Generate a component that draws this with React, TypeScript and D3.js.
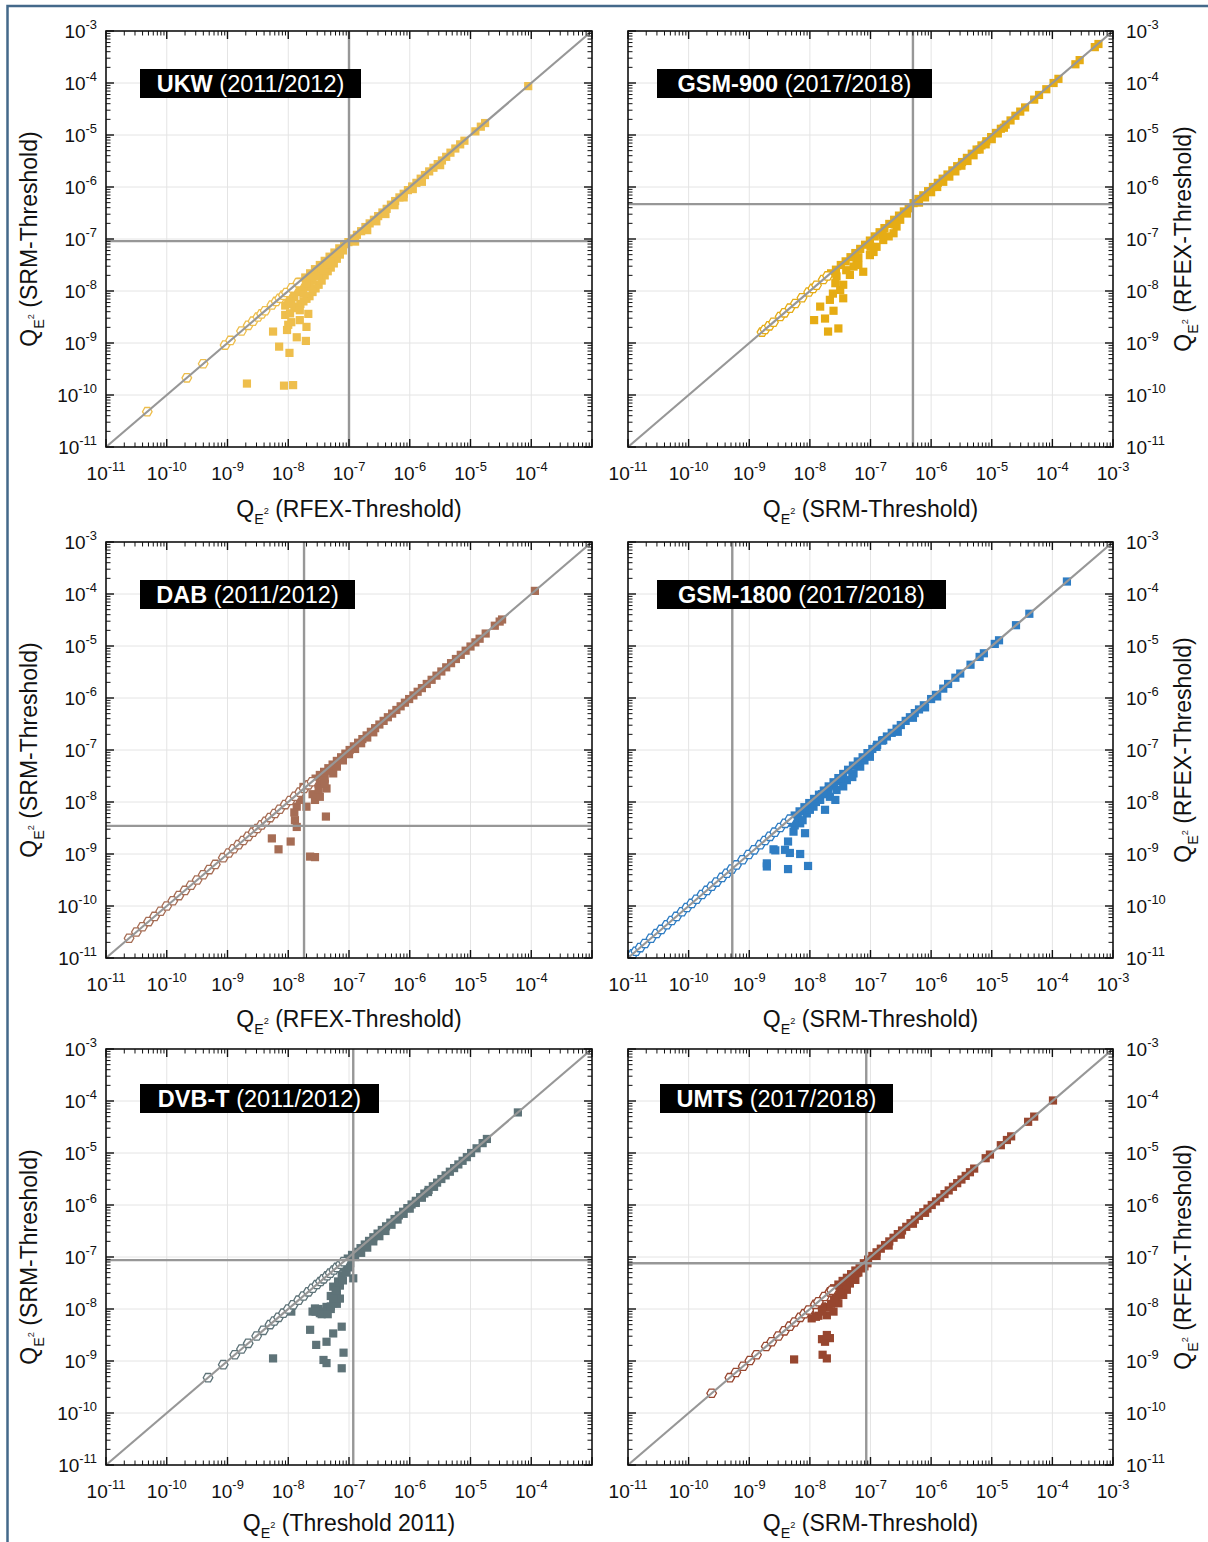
import React from 'react';
import * as d3 from 'd3';

type P = [number, number];

// ---- data (log10 exponents: [x, y]) ----
const ukwOpen: P[] = [[-10.32,-10.32],[-9.67,-9.67],[-9.4,-9.4],[-9.04,-9.04],[-8.95,-8.95],[-8.77,-8.77],[-8.66,-8.66],[-8.58,-8.58],[-8.5,-8.5],[-8.44,-8.44],[-8.38,-8.38],[-8.27,-8.27],[-8.2,-8.2],[-8.14,-8.14],[-8.08,-8.08],[-8.03,-8.03],[-7.94,-7.94],[-7.84,-7.84]];
const ukwFilled: P[] = [[-4.05,-4.06],[-4.76,-4.77],[-4.83,-4.84],[-4.92,-4.93],[-5.1,-5.11],[-5.17,-5.18],[-5.25,-5.26],[-5.33,-5.34],[-5.4,-5.42],[-5.47,-5.49],[-5.54,-5.56],[-5.61,-5.63],[-5.68,-5.7],[-5.75,-5.77],[-5.82,-5.84],[-5.89,-5.92],[-5.96,-5.99],[-6.03,-6.06],[-6.1,-6.13],[-6.17,-6.2],[-6.24,-6.27],[-6.31,-6.34],[-6.38,-6.42],[-6.45,-6.49],[-6.52,-6.56],[-6.59,-6.63],[-6.66,-6.7],[-6.73,-6.77],[-6.8,-6.85],[-6.87,-6.92],[-6.94,-6.99],[-7.01,-7.06],[-5.5,-5.58],[-5.8,-5.9],[-6.1,-6.2],[-6.4,-6.52],[-6.7,-6.83],[-6.9,-7.05],[-6.55,-6.66],[-6.25,-6.35],[-5.95,-6.04],[-7.08,-7.1],[-7.16,-7.18],[-7.24,-7.26],[-7.32,-7.34],[-7.4,-7.42],[-7.48,-7.5],[-7.56,-7.58],[-7.64,-7.66],[-7.72,-7.74],[-7.8,-7.82],[-7.1,-7.22],[-7.15,-7.3],[-7.2,-7.38],[-7.25,-7.47],[-7.3,-7.55],[-7.35,-7.62],[-7.4,-7.7],[-7.45,-7.8],[-7.5,-7.88],[-7.55,-7.95],[-7.6,-8.02],[-7.65,-8.1],[-7.7,-8.15],[-7.75,-8.2],[-7.8,-8.25],[-7.85,-8.3],[-7.9,-8.33],[-7.2,-7.28],[-7.3,-7.44],[-7.4,-7.56],[-7.5,-7.68],[-7.6,-7.8],[-7.7,-7.92],[-7.8,-8.02],[-7.9,-8.12],[-7.95,-8.05],[-8.0,-8.2],[-7.85,-7.98],[-7.65,-7.9],[-7.75,-8.05],[-7.35,-7.48],[-7.45,-7.6],[-7.55,-7.72],[-7.62,-7.74],[-7.7,-7.85],[-7.8,-7.92],[-7.9,-8.0],[-8.0,-8.1],[-8.05,-8.28],[-7.95,-8.25],[-8.68,-9.78],[-8.07,-9.82],[-7.92,-9.81],[-8.25,-8.78],[-8.15,-9.07],[-7.98,-9.19],[-7.86,-8.89],[-7.71,-8.96],[-7.70,-8.69],[-8.02,-8.75],[-8.05,-8.46],[-7.97,-8.43],[-7.81,-8.56],[-7.67,-8.44],[-7.81,-8.37],[-7.95,-8.6],[-8.0,-8.65]];

const gsm900Open: P[] = [[-8.79,-8.79],[-8.74,-8.74],[-8.67,-8.67],[-8.6,-8.6],[-8.49,-8.49],[-8.42,-8.42],[-8.33,-8.33],[-8.24,-8.24],[-8.13,-8.13],[-8.02,-8.02],[-7.95,-7.95],[-7.89,-7.89],[-7.78,-7.78],[-7.71,-7.71]];
const gsm900Filled: P[] = [[-7.93,-8.56],[-7.75,-8.53],[-7.70,-8.78],[-7.53,-8.72],[-7.83,-8.30],[-7.61,-8.38],[-7.67,-8.17],[-7.45,-8.14],[-7.50,-7.98],[-7.45,-7.88],[-7.56,-7.72],[-7.34,-7.69],[-7.28,-7.53],[-7.12,-7.63],[-7.23,-7.40],[-7.01,-7.31],[-6.90,-7.15],[-6.79,-7.02],[-6.62,-6.89],[-6.57,-6.76],[-6.51,-6.63],[-6.40,-6.51],[-6.35,-6.41],[-7.58,-7.85],[-7.62,-8.05],[-7.4,-7.6],[-7.2,-7.5],[-6.95,-7.25],[-6.7,-6.95],[-7.65,-7.66],[-7.57,-7.59],[-7.49,-7.5],[-7.41,-7.43],[-7.33,-7.35],[-7.25,-7.27],[-7.17,-7.19],[-7.09,-7.11],[-7.01,-7.03],[-6.93,-6.95],[-6.85,-6.87],[-6.77,-6.79],[-6.69,-6.71],[-6.61,-6.63],[-6.53,-6.55],[-6.45,-6.47],[-6.37,-6.39],[-6.29,-6.31],[-6.21,-6.23],[-6.13,-6.16],[-6.05,-6.08],[-5.97,-6.0],[-5.89,-5.92],[-5.81,-5.84],[-5.73,-5.76],[-5.65,-5.68],[-5.57,-5.6],[-5.49,-5.52],[-5.41,-5.44],[-5.33,-5.36],[-5.25,-5.28],[-5.17,-5.2],[-5.09,-5.12],[-5.01,-5.04],[-4.93,-4.96],[-4.85,-4.88],[-4.77,-4.8],[-4.69,-4.72],[-4.61,-4.63],[-4.53,-4.55],[-4.45,-4.47],[-4.3,-4.32],[-4.22,-4.23],[-4.1,-4.12],[-3.98,-4.0],[-3.9,-3.92],[-3.62,-3.64],[-3.55,-3.56],[-3.3,-3.31],[-3.24,-3.25],[-6.2,-6.3],[-6.0,-6.1],[-5.8,-5.9],[-5.6,-5.7],[-5.4,-5.5],[-5.2,-5.28],[-5.0,-5.08],[-4.8,-4.86],[-6.4,-6.5],[-6.6,-6.72],[-6.8,-6.92],[-7.0,-7.15],[-7.2,-7.35],[-6.1,-6.2],[-5.9,-6.0],[-5.7,-5.8],[-5.5,-5.59],[-5.3,-5.39],[-5.1,-5.18],[-4.9,-4.97]];

const dabOpen: P[] = [[-10.62,-10.62],[-10.5,-10.5],[-10.4,-10.4],[-10.3,-10.3],[-10.2,-10.2],[-10.1,-10.1],[-10.0,-10.0],[-9.9,-9.9],[-9.8,-9.8],[-9.7,-9.7],[-9.6,-9.6],[-9.5,-9.5],[-9.4,-9.4],[-9.3,-9.3],[-9.2,-9.2],[-9.07,-9.07],[-8.98,-8.98],[-8.9,-8.9],[-8.82,-8.82],[-8.74,-8.74],[-8.66,-8.66],[-8.58,-8.58],[-8.51,-8.51],[-8.44,-8.44],[-8.37,-8.37],[-8.3,-8.3],[-8.22,-8.22],[-8.14,-8.14],[-8.05,-8.05],[-7.97,-7.97],[-7.89,-7.89],[-7.81,-7.81],[-7.74,-7.74],[-7.67,-7.67],[-7.61,-7.61]];
const dabFilled: P[] = [[-7.55,-7.55],[-7.48,-7.48],[-7.41,-7.42],[-7.34,-7.35],[-7.27,-7.28],[-7.2,-7.21],[-7.13,-7.14],[-7.06,-7.07],[-6.99,-7.0],[-6.92,-6.93],[-6.85,-6.86],[-6.78,-6.79],[-6.71,-6.72],[-6.64,-6.65],[-6.57,-6.58],[-6.5,-6.51],[-6.43,-6.44],[-6.36,-6.37],[-6.29,-6.3],[-6.22,-6.23],[-6.15,-6.16],[-6.08,-6.09],[-6.01,-6.02],[-5.94,-5.95],[-5.87,-5.88],[-5.8,-5.81],[-5.72,-5.73],[-5.64,-5.65],[-5.56,-5.57],[-5.48,-5.49],[-5.4,-5.41],[-5.32,-5.33],[-5.24,-5.25],[-5.16,-5.17],[-5.08,-5.09],[-5.0,-5.01],[-4.92,-4.93],[-4.85,-4.86],[-4.75,-4.76],[-4.6,-4.61],[-4.52,-4.53],[-4.48,-4.49],[-3.94,-3.94],[-7.3,-7.4],[-7.2,-7.3],[-7.1,-7.2],[-7.0,-7.08],[-6.9,-6.98],[-6.8,-6.87],[-6.7,-6.76],[-6.6,-6.66],[-7.4,-7.55],[-7.5,-7.65],[-8.27,-8.70],[-8.16,-8.91],[-7.96,-8.76],[-7.64,-9.05],[-7.56,-9.06],[-7.89,-8.35],[-7.86,-8.48],[-7.86,-8.09],[-7.70,-8.09],[-7.56,-7.96],[-7.48,-7.90],[-7.38,-8.28],[-7.37,-7.74],[-7.42,-7.58],[-7.26,-7.45],[-7.20,-7.32],[-7.12,-7.19],[-7.81,-7.96],[-7.86,-7.9],[-7.75,-7.71],[-7.9,-8.2],[-7.6,-7.85],[-7.5,-7.75],[-7.4,-7.65]];

const gsm1800Open: P[] = [[-10.92,-10.92],[-10.87,-10.87],[-10.8,-10.8],[-10.72,-10.72],[-10.62,-10.62],[-10.53,-10.53],[-10.45,-10.45],[-10.36,-10.36],[-10.28,-10.28],[-10.2,-10.2],[-10.11,-10.11],[-10.03,-10.03],[-9.95,-9.95],[-9.87,-9.87],[-9.78,-9.78],[-9.7,-9.7],[-9.62,-9.62],[-9.54,-9.54],[-9.45,-9.45],[-9.37,-9.37],[-9.29,-9.29],[-9.21,-9.21],[-9.11,-9.11],[-9.01,-9.01],[-8.92,-8.92],[-8.82,-8.82],[-8.74,-8.74],[-8.66,-8.66],[-8.58,-8.58],[-8.49,-8.49],[-8.41,-8.41],[-8.33,-8.33]];
const gsm1800Filled: P[] = [[-8.71,-9.24],[-8.71,-9.18],[-8.36,-9.29],[-8.03,-9.23],[-8.60,-8.91],[-8.57,-8.93],[-8.41,-8.92],[-8.33,-8.98],[-8.16,-9.0],[-8.36,-8.76],[-8.27,-8.57],[-8.08,-8.60],[-8.16,-8.41],[-8.05,-8.22],[-7.94,-8.09],[-7.75,-8.15],[-7.83,-7.96],[-7.67,-7.90],[-7.56,-7.77],[-7.58,-7.96],[-7.39,-7.58],[-7.28,-7.45],[-7.17,-7.32],[-7.01,-7.13],[-6.90,-6.94],[-6.79,-6.81],[-8.2,-8.3],[-8.12,-8.35],[-8.25,-8.45],[-8.3,-8.4],[-8.0,-8.15],[-7.9,-8.0],[-7.8,-7.85],[-7.7,-7.78],[-7.6,-7.68],[-7.5,-7.6],[-7.45,-7.7],[-7.3,-7.52],[-7.2,-7.3],[-7.1,-7.2],[-8.25,-8.26],[-8.17,-8.18],[-8.09,-8.1],[-8.01,-8.02],[-7.93,-7.94],[-7.85,-7.86],[-7.77,-7.78],[-7.69,-7.7],[-7.61,-7.62],[-7.53,-7.54],[-7.45,-7.46],[-7.37,-7.38],[-7.29,-7.3],[-7.21,-7.22],[-7.13,-7.14],[-7.05,-7.06],[-6.97,-6.98],[-6.89,-6.9],[-6.81,-6.82],[-6.73,-6.74],[-6.65,-6.67],[-6.57,-6.59],[-6.5,-6.52],[-6.42,-6.44],[-6.35,-6.37],[-6.27,-6.29],[-6.2,-6.22],[-6.12,-6.14],[-6.0,-6.02],[-5.92,-5.94],[-5.8,-5.82],[-5.72,-5.73],[-5.6,-5.61],[-5.52,-5.53],[-5.35,-5.36],[-5.2,-5.21],[-5.13,-5.14],[-4.95,-4.96],[-4.88,-4.89],[-4.6,-4.6],[-4.38,-4.38],[-3.76,-3.76],[-6.55,-6.65],[-6.3,-6.38],[-6.1,-6.18],[-5.9,-5.97]];

const dvbtOpen: P[] = [[-9.32,-9.32],[-9.07,-9.07],[-8.88,-8.88],[-8.77,-8.77],[-8.66,-8.66],[-8.52,-8.52],[-8.41,-8.41],[-8.30,-8.30],[-8.23,-8.23],[-8.16,-8.16],[-8.08,-8.08],[-8.0,-8.0],[-7.92,-7.92],[-7.83,-7.83],[-7.75,-7.75],[-7.67,-7.67],[-7.6,-7.6],[-7.53,-7.53],[-7.47,-7.47],[-7.42,-7.42],[-7.36,-7.36],[-7.31,-7.31],[-7.25,-7.25],[-7.20,-7.20],[-7.14,-7.14],[-7.09,-7.09]];
const dvbtFilled: P[] = [[-8.25,-8.95],[-7.64,-8.40],[-7.54,-8.69],[-7.37,-8.63],[-7.26,-8.47],[-7.12,-8.34],[-7.42,-8.98],[-7.37,-9.04],[-7.09,-8.84],[-7.12,-9.14],[-7.56,-7.99],[-7.48,-8.08],[-7.37,-7.96],[-7.26,-7.89],[-7.20,-7.73],[-7.26,-7.57],[-7.18,-7.47],[-7.12,-7.35],[-7.04,-7.25],[-7.09,-7.19],[-6.98,-7.12],[-6.93,-7.41],[-7.95,-8.05],[-7.6,-8.05],[-7.5,-8.0],[-7.4,-8.05],[-7.3,-8.0],[-7.2,-7.9],[-7.15,-7.8],[-7.2,-7.65],[-7.15,-7.55],[-7.3,-7.75],[-7.1,-7.45],[-7.05,-7.3],[-7.0,-7.2],[-7.55,-8.05],[-7.45,-8.1],[-7.35,-8.1],[-7.3,-7.95],[-7.25,-7.8],[-7.22,-7.65],[-7.02,-7.03],[-6.95,-6.96],[-6.88,-6.9],[-6.81,-6.83],[-6.74,-6.76],[-6.67,-6.69],[-6.6,-6.62],[-6.53,-6.55],[-6.46,-6.48],[-6.39,-6.41],[-6.32,-6.34],[-6.25,-6.27],[-6.18,-6.2],[-6.11,-6.13],[-6.04,-6.06],[-5.97,-5.99],[-5.9,-5.92],[-5.83,-5.85],[-5.76,-5.78],[-5.69,-5.71],[-5.62,-5.64],[-5.55,-5.57],[-5.48,-5.5],[-5.41,-5.43],[-5.34,-5.36],[-5.27,-5.29],[-5.2,-5.22],[-5.13,-5.15],[-5.06,-5.08],[-4.99,-5.0],[-4.9,-4.91],[-4.8,-4.81],[-4.73,-4.73],[-4.22,-4.22],[-6.9,-7.0],[-6.8,-6.92],[-6.7,-6.82],[-6.6,-6.7],[-6.5,-6.6],[-6.4,-6.5],[-6.3,-6.38],[-6.2,-6.28],[-6.1,-6.17],[-6.0,-6.07],[-5.9,-5.96],[-5.8,-5.86],[-5.7,-5.75],[-5.6,-5.65]];

const umtsOpen: P[] = [[-9.62,-9.62],[-9.32,-9.32],[-9.22,-9.22],[-9.10,-9.10],[-8.99,-8.99],[-8.88,-8.88],[-8.72,-8.72],[-8.63,-8.63],[-8.52,-8.52],[-8.42,-8.42],[-8.33,-8.33],[-8.25,-8.25],[-8.16,-8.16],[-8.09,-8.09],[-8.02,-8.02],[-7.91,-7.91],[-7.86,-7.86],[-7.76,-7.76],[-7.67,-7.67],[-7.64,-7.64]];
const umtsFilled: P[] = [[-8.26,-8.97],[-7.79,-8.88],[-7.72,-8.95],[-7.80,-8.58],[-7.67,-8.56],[-7.75,-8.63],[-7.72,-8.5],[-7.97,-8.18],[-7.86,-8.13],[-7.72,-8.12],[-7.61,-8.05],[-7.69,-7.96],[-7.53,-7.89],[-7.56,-7.76],[-7.45,-7.73],[-7.39,-7.63],[-7.47,-7.54],[-7.34,-7.51],[-7.25,-7.44],[-7.23,-7.31],[-7.14,-7.22],[-8.0,-8.02],[-7.9,-8.15],[-7.8,-8.05],[-7.65,-7.9],[-7.6,-7.8],[-7.5,-7.65],[-7.4,-7.55],[-7.3,-7.4],[-7.2,-7.3],[-7.1,-7.18],[-7.05,-7.12],[-7.8,-7.95],[-7.6,-7.6],[-7.53,-7.53],[-7.46,-7.46],[-7.39,-7.4],[-7.32,-7.33],[-7.25,-7.26],[-7.18,-7.19],[-7.11,-7.12],[-7.04,-7.05],[-6.97,-6.98],[-6.9,-6.91],[-6.83,-6.84],[-6.76,-6.77],[-6.69,-6.7],[-6.62,-6.63],[-6.55,-6.56],[-6.48,-6.49],[-6.41,-6.42],[-6.34,-6.35],[-6.27,-6.28],[-6.2,-6.21],[-6.13,-6.14],[-6.06,-6.07],[-5.99,-6.0],[-5.92,-5.93],[-5.85,-5.86],[-5.78,-5.79],[-5.71,-5.72],[-5.64,-5.65],[-5.57,-5.58],[-5.5,-5.51],[-5.43,-5.44],[-5.36,-5.37],[-5.29,-5.3],[-5.1,-5.1],[-5.03,-5.03],[-4.85,-4.85],[-4.75,-4.75],[-4.68,-4.68],[-4.4,-4.4],[-4.3,-4.3],[-3.99,-3.99],[-6.9,-6.98],[-6.7,-6.78],[-6.5,-6.57],[-6.3,-6.36],[-6.1,-6.15]];

const majorExps = [-11, -10, -9, -8, -7, -6, -5, -4, -3];

const panels = [
  { name: 'UKW', period: '(2011/2012)', color: '#EEBE4C', open: ukwOpen, filled: ukwFilled, vx: -7.0, hy: -7.04, xTitle: '(RFEX-Threshold)', yTitle: '(SRM-Threshold)', boxW: 221 },
  { name: 'GSM-900', period: '(2017/2018)', color: '#E6AC14', open: gsm900Open, filled: gsm900Filled, vx: -6.3, hy: -6.33, xTitle: '(SRM-Threshold)', yTitle: '(RFEX-Threshold)', boxW: 275 },
  { name: 'DAB', period: '(2011/2012)', color: '#A66D55', open: dabOpen, filled: dabFilled, vx: -7.74, hy: -8.46, xTitle: '(RFEX-Threshold)', yTitle: '(SRM-Threshold)', boxW: 215 },
  { name: 'GSM-1800', period: '(2017/2018)', color: '#2F7DC3', open: gsm1800Open, filled: gsm1800Filled, vx: -9.28, hy: null as number | null, xTitle: '(SRM-Threshold)', yTitle: '(RFEX-Threshold)', boxW: 289 },
  { name: 'DVB-T', period: '(2011/2012)', color: '#5E7378', open: dvbtOpen, filled: dvbtFilled, vx: -6.93, hy: -7.06, xTitle: '(Threshold 2011)', yTitle: '(SRM-Threshold)', boxW: 239 },
  { name: 'UMTS', period: '(2017/2018)', color: '#97462F', open: umtsOpen, filled: umtsFilled, vx: -7.07, hy: -7.12, xTitle: '(SRM-Threshold)', yTitle: '(RFEX-Threshold)', boxW: 233 },
];

const colLeft = [106, 628];
const colRight = [592, 1113];
const rowTop = [31, 542, 1049];
const rowBottom = [447, 958, 1465];
const titleGap = [70, 69, 66];

const FONT = 'Liberation Sans, Arial, Helvetica, sans-serif';

function hexPath(cx: number, cy: number, r: number) {
  const pts = d3.range(6).map(i => {
    const a = (Math.PI / 3) * i;
    return [cx + r * Math.cos(a), cy + r * Math.sin(a)];
  });
  return 'M' + pts.map(p => p[0].toFixed(2) + ',' + p[1].toFixed(2)).join('L') + 'Z';
}

function Pow({ e, size }: { e: number; size: number }) {
  return (
    <>
      <tspan>10</tspan>
      <tspan fontSize={size * 0.68} dy={-size * 0.48}>{String(e)}</tspan>
    </>
  );
}

function QTitle({ text, size }: { text: string; size: number }) {
  return (
    <>
      <tspan>Q</tspan>
      <tspan fontSize={size * 0.62} dy={size * 0.3}>E</tspan>
      <tspan fontSize={size * 0.4} dy={-size * 0.42}>2</tspan>
      <tspan dy={size * 0.12}>{' ' + text}</tspan>
    </>
  );
}

function Panel({ idx }: { idx: number }) {
  const p = panels[idx];
  const col = idx % 2;
  const row = Math.floor(idx / 2);
  const L = colLeft[col], R = colRight[col], T = rowTop[row], B = rowBottom[row];
  const x = d3.scaleLog().domain([1e-11, 1e-3]).range([L, R]);
  const y = d3.scaleLog().domain([1e-11, 1e-3]).range([B, T]);
  const minors: number[] = [];
  for (let k = -11; k < -3; k++) for (let m = 2; m <= 9; m++) minors.push(m * Math.pow(10, k));
  const majors = majorExps.map(e => Math.pow(10, e));
  const tickSize = 19;
  const titleSize = 23;
  const xLabelExps = col === 0 ? majorExps.slice(0, -1) : majorExps;
  const grid = '#e4e4e4';
  const refLine = '#979797';
  const sq = 8.2;
  const cx = (L + R) / 2, cy = (T + B) / 2;
  const boxX = col === 0 ? L + 34 : L + 29 + (idx === 5 ? 3 : 0);
  const boxY = T + 38 - (row === 2 ? 3 : 0);
  return (
    <g>
      {majors.slice(1, -1).map((v, i) => (
        <g key={'g' + i}>
          <line x1={x(v)} x2={x(v)} y1={T} y2={B} stroke={grid} strokeWidth={1} />
          <line x1={L} x2={R} y1={y(v)} y2={y(v)} stroke={grid} strokeWidth={1} />
        </g>
      ))}
      {p.filled.map((d, i) => (
        <rect key={'f' + i} x={x(Math.pow(10, d[0])) - sq / 2} y={y(Math.pow(10, d[1])) - sq / 2} width={sq} height={sq} fill={p.color} />
      ))}
      {p.open.map((d, i) => (
        <path key={'o' + i} d={hexPath(x(Math.pow(10, d[0])), y(Math.pow(10, d[1])), 4.8)} fill="#fff" stroke={p.color} strokeWidth={1.3} />
      ))}
      <line x1={x(1e-11)} y1={y(1e-11)} x2={x(1e-3)} y2={y(1e-3)} stroke={refLine} strokeWidth={2.2} />
      <line x1={x(Math.pow(10, p.vx))} x2={x(Math.pow(10, p.vx))} y1={T} y2={B} stroke={refLine} strokeWidth={2.4} />
      {p.hy !== null && (
        <line x1={L} x2={R} y1={y(Math.pow(10, p.hy as number))} y2={y(Math.pow(10, p.hy as number))} stroke={refLine} strokeWidth={2.4} />
      )}
      {/* ticks */}
      {majors.map((v, i) => (
        <g key={'mt' + i} stroke="#111" strokeWidth={1.4}>
          <line x1={x(v)} x2={x(v)} y1={B} y2={B - 8} />
          <line x1={x(v)} x2={x(v)} y1={T} y2={T + 8} />
          <line x1={L} x2={L + 8} y1={y(v)} y2={y(v)} />
          <line x1={R} x2={R - 8} y1={y(v)} y2={y(v)} />
        </g>
      ))}
      {minors.map((v, i) => (
        <g key={'nt' + i} stroke="#111" strokeWidth={1}>
          <line x1={x(v)} x2={x(v)} y1={B} y2={B - 4.5} />
          <line x1={x(v)} x2={x(v)} y1={T} y2={T + 4.5} />
          <line x1={L} x2={L + 4.5} y1={y(v)} y2={y(v)} />
          <line x1={R} x2={R - 4.5} y1={y(v)} y2={y(v)} />
        </g>
      ))}
      <rect x={L} y={T} width={R - L} height={B - T} fill="none" stroke="#111" strokeWidth={1.6} />
      {/* tick labels */}
      {xLabelExps.map(e => (
        <text key={'xl' + e} x={x(Math.pow(10, e))} y={B + 33} textAnchor="middle" fontSize={tickSize} fontFamily={FONT} fill="#111">
          <Pow e={e} size={tickSize} />
        </text>
      ))}
      {majorExps.map(e => (
        col === 0 ? (
          <text key={'yl' + e} x={L - 9} y={y(Math.pow(10, e)) + 7} textAnchor="end" fontSize={tickSize} fontFamily={FONT} fill="#111">
            <Pow e={e} size={tickSize} />
          </text>
        ) : (
          <text key={'yl' + e} x={R + 13} y={y(Math.pow(10, e)) + 7} textAnchor="start" fontSize={tickSize} fontFamily={FONT} fill="#111">
            <Pow e={e} size={tickSize} />
          </text>
        )
      ))}
      {/* axis titles */}
      <text x={cx} y={B + titleGap[row]} textAnchor="middle" fontSize={titleSize} fontFamily={FONT} fill="#111">
        <QTitle text={p.xTitle} size={titleSize} />
      </text>
      <text transform={`translate(${col === 0 ? 37 : 1191},${cy}) rotate(-90)`} textAnchor="middle" fontSize={titleSize} fontFamily={FONT} fill="#111">
        <QTitle text={p.yTitle} size={titleSize} />
      </text>
      {/* label box */}
      <rect x={boxX} y={boxY} width={p.boxW} height={29} fill="#000" />
      <text x={boxX + p.boxW / 2} y={boxY + 22.5} textAnchor="middle" fontSize={23.5} fontFamily={FONT} fill="#fff">
        <tspan fontWeight="bold">{p.name}</tspan>
        <tspan>{' ' + p.period}</tspan>
      </text>
    </g>
  );
}

export default function App() {
  return (
    <svg width={1208} height={1542} style={{ position: 'absolute', left: 0, top: 0, background: '#fff' }} xmlns="http://www.w3.org/2000/svg">
      <rect x={0} y={0} width={1208} height={1542} fill="#fff" />
      <rect x={7.5} y={6} width={1300} height={1600} fill="none" stroke="#44698A" strokeWidth={2.5} />
      {panels.map((_, i) => (
        <Panel key={i} idx={i} />
      ))}
    </svg>
  );
}
